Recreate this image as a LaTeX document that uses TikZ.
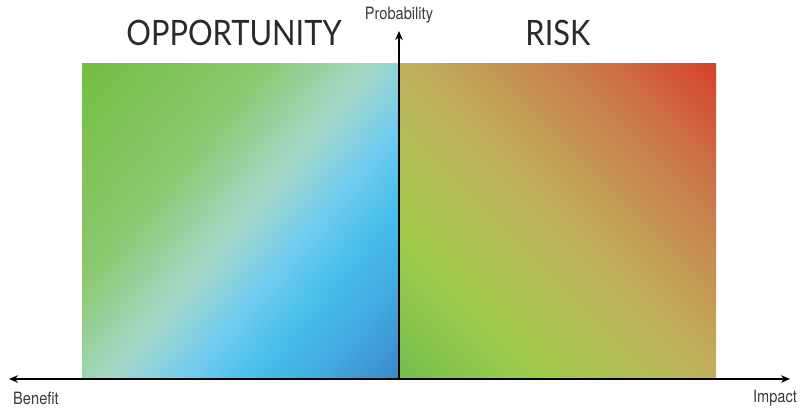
\documentclass[tikz,border=0pt]{standalone}
\usepackage{fontspec}
\usetikzlibrary{arrows.meta}
\newfontfamily\titlefont[FakeStretch=0.88]{Lato}
\newfontfamily\labelfont[FakeStretch=0.86]{TeX Gyre Heros}
\definecolor{oA}{HTML}{74BE42}
\definecolor{oB}{HTML}{8CC870}
\definecolor{oC}{HTML}{A4D8C8}
\definecolor{oD}{HTML}{72CCEE}
\definecolor{oE}{HTML}{48BFEC}
\definecolor{oF}{HTML}{42A8DE}
\definecolor{oG}{HTML}{3B88C8}
\definecolor{rA}{HTML}{76BE4E}
\definecolor{rB}{HTML}{A0CC4C}
\definecolor{rC}{HTML}{B2BF56}
\definecolor{rD}{HTML}{C2AE5C}
\definecolor{rE}{HTML}{C68C50}
\definecolor{rF}{HTML}{CC7046}
\definecolor{rG}{HTML}{D8402C}
\definecolor{txt}{HTML}{2A2A2A}
\definecolor{lbl}{HTML}{3A3A3A}
\pgfdeclarehorizontalshading{oppshade}{100bp}{color(0bp)=(oA); color(15bp)=(oA); color(37bp)=(oB); color(50bp)=(oC); color(59bp)=(oD); color(67bp)=(oE); color(76bp)=(oF); color(85bp)=(oG); color(100bp)=(oG)}
\pgfdeclarehorizontalshading{riskshade}{100bp}{color(0bp)=(rA); color(15bp)=(rA); color(31bp)=(rB); color(41bp)=(rC); color(51bp)=(rD); color(64bp)=(rE); color(73bp)=(rF); color(85.4bp)=(rG); color(100bp)=(rG)}
\begin{document}
\begin{tikzpicture}[x=1pt,y=-1pt,
  axisline/.style={line width=1.8pt,black},
  tip/.style={-{Stealth[length=9pt,width=7.5pt]}},
  title/.style={font=\titlefont\fontsize{35}{40}\selectfont,text=txt,inner sep=0pt},
  axlabel/.style={font=\labelfont\fontsize{17}{19}\selectfont,text=lbl,inner sep=0pt}]
\useasboundingbox (0,0) rectangle (802,408);
\shade[shading=oppshade,shading angle=-40] (82,63) rectangle (399,379);
\shade[shading=riskshade,shading angle=45] (399,63) rectangle (716,379);
\coordinate (L) at (9,379);
\coordinate (R) at (790,379);
\coordinate (O) at (399,379);
\coordinate (T) at (399,31);
\draw[axisline,{Stealth[length=9pt,width=7.5pt]}-{Stealth[length=9pt,width=7.5pt]}] (L) -- (R);
\draw[axisline,tip] (O) -- (T);
\node[title] (opp) at (234,33) {OPPORTUNITY};
\node[title] (risk) at (558,33) {RISK};
\node[axlabel] (prob) at (399,15) {Probability};
\node[axlabel] (ben) at (36,398) {Benefit};
\node[axlabel] (imp) at (775,398) {Impact};
\end{tikzpicture}
\end{document}
